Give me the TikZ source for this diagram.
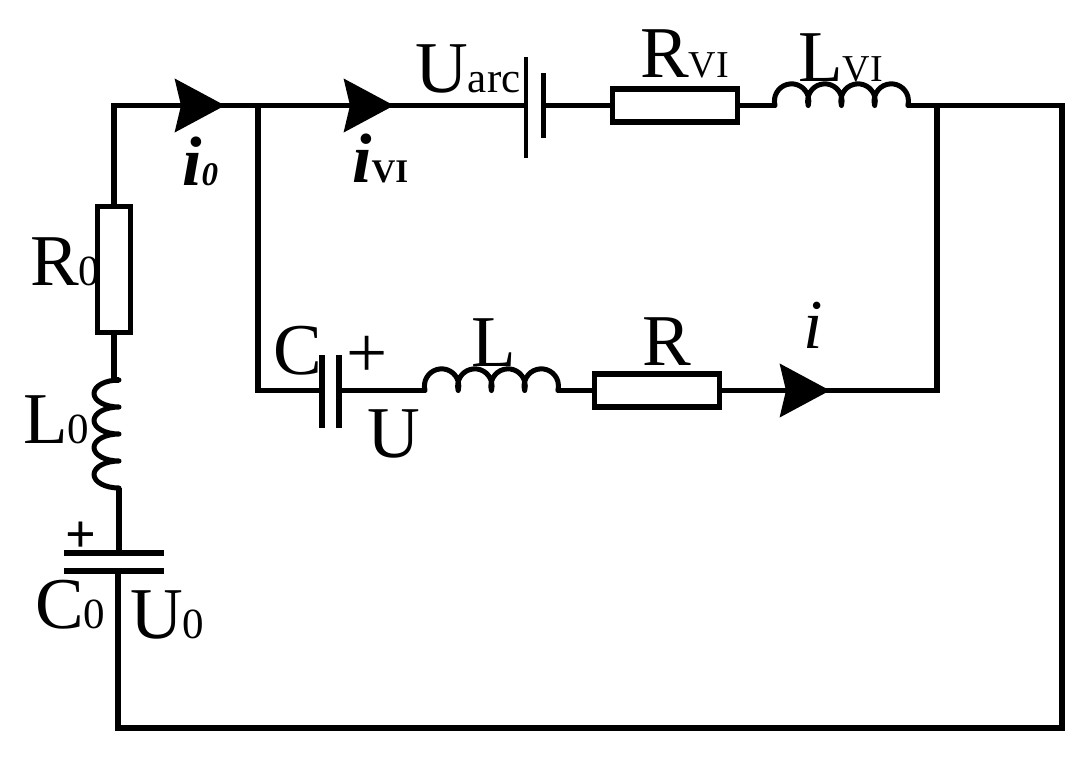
\documentclass[tikz,border=0pt]{standalone}
\usepackage{fontspec}
\setmainfont{Liberation Serif}
\usetikzlibrary{arrows.meta}
\newcommand{\bigfont}{\fontsize{73}{73}\selectfont}
\newcommand{\subfont}[1]{{\fontsize{43}{43}\selectfont #1}}
\newcommand{\vifont}{\fontsize{38}{38}\selectfont}
\newcommand{\cursub}[1]{{\fontsize{33}{33}\selectfont\bfseries #1}}
\tikzset{
	wire/.style={line width=5.5pt,line join=miter},
	coilwire/.style={line width=5pt,line join=round,line cap=round},
	resistor/.style={draw,rectangle,line width=5.5pt,inner sep=0pt},
	lab/.style={anchor=base west,inner sep=0pt,font=\bigfont},
	curlab/.style={anchor=base west,inner sep=0pt,font=\fontsize{70}{70}\selectfont\bfseries\itshape},
	arrowtip/.style={-{Stealth[length=50pt,width=53pt,inset=6pt]}}
}
\begin{document}
\begin{tikzpicture}[x=1pt,y=-1pt]
	\useasboundingbox (0,0) rectangle (1087,766);
	% coordinates of the wires
	\coordinate (corner_tl) at (114,105.5);
	\coordinate (tip_io) at (225,105.5);
	\coordinate (junction_l) at (258,105.5);
	\coordinate (tip_ivi) at (394,105.5);
	\coordinate (junction_r) at (937,105.5);
	\coordinate (corner_tr) at (1062,105.5);
	\coordinate (corner_br) at (1062,728);
	\coordinate (corner_bl) at (118,728);
	\coordinate (corner_cl) at (258,390.5);
	\coordinate (corner_cr) at (937,390.5);
	\coordinate (tip_i) at (830,390.5);
	% capacitor plates
	\coordinate (Uarc_a) at (526,57);
	\coordinate (Uarc_b) at (526,158);
	\coordinate (Uarc_c) at (543,73);
	\coordinate (Uarc_d) at (543,138);
	\coordinate (C_a) at (322,355);
	\coordinate (C_b) at (322,428);
	\coordinate (C_c) at (339,355);
	\coordinate (C_d) at (339,428);
	\coordinate (C0_a) at (64,553);
	\coordinate (C0_b) at (164,553);
	\coordinate (C0_c) at (64,571);
	\coordinate (C0_d) at (164,571);
	% resistors
	\node[resistor,minimum width=33pt,minimum height=126pt] (R0) at (114,269.5) {};
	\node[resistor,minimum width=125pt,minimum height=33pt] (RVI) at (675,105.5) {};
	\node[resistor,minimum width=125pt,minimum height=33pt] (R) at (657,390.5) {};
	% inductors
	\coordinate (L0_a) at (119,380);
	\coordinate (L0_b) at (119,488);
	\coordinate (LVI_a) at (775,105.5);
	\coordinate (LVI_b) at (908,105.5);
	\coordinate (L_a) at (425,390.5);
	\coordinate (L_b) at (558,390.5);
	\draw[coilwire] (L0_a) \foreach \k in {1,...,4}{ arc[start angle=90,end angle=270,x radius=25pt,y radius=13.5pt] };
	\draw[coilwire] (LVI_a) \foreach \k in {1,...,4}{ arc[start angle=195,end angle=-15,radius=17.2pt] };
	\draw[coilwire] (L_a) \foreach \k in {1,...,4}{ arc[start angle=195,end angle=-15,radius=17.2pt] };
	% plates
	\draw[line width=3.5pt] (Uarc_a)--(Uarc_b);
	\draw[line width=5pt] (Uarc_c)--(Uarc_d);
	\draw[wire] (C_a)--(C_b);
	\draw[wire] (C_c)--(C_d);
	\draw[wire] (C0_a)--(C0_b);
	\draw[wire] (C0_c)--(C0_d);
	% wires
	\draw[wire] (R0.north)--(corner_tl)--(junction_l)--(Uarc_a |- tip_ivi);
	\draw[wire] (junction_l)--(corner_cl)--(C_a |- corner_cl);
	\draw[wire] (C_c |- L_a)--(L_a);
	\draw[wire] (L_b)--(R.west);
	\draw[wire] (R.east)--(corner_cr)--(junction_r);
	\draw[wire] (Uarc_c |- RVI)--(RVI.west);
	\draw[wire] (RVI.east)--(LVI_a);
	\draw[wire] (LVI_b)--(corner_tr)--(corner_br)--(corner_bl)--(corner_bl |- C0_c);
	\draw[wire] (R0.south)--(R0.south |- L0_a)--(L0_a);
	\draw[wire] (L0_b)--(L0_b |- C0_a);
	% arrowheads
	\draw[wire,arrowtip] (corner_tl)--(tip_io);
	\draw[wire,arrowtip] (junction_l)--(tip_ivi);
	\draw[wire,arrowtip] (R.east)--(tip_i);
	% labels
	\node[lab] (lab_R0) at (30,285) {R\subfont{0}};
	\node[lab] (lab_L0) at (23,443) {L\subfont{0}};
	\node[lab] (lab_C0) at (35,628) {C\subfont{0}};
	\node[lab] (lab_U0) at (130,638) {U\subfont{0}};
	\node[lab] (lab_C) at (273,374) {C};
	\node[lab] (lab_U) at (367,457) {U};
	\node[lab] (lab_L) at (471,366) {L};
	\node[lab] (lab_R) at (642,365) {R};
	\node[lab] (lab_Uarc) at (415,92) {U\subfont{arc}};
	\node[lab] (lab_RVI) at (640,77) {R{\vifont VI}};
	\node[lab] (lab_LVI) at (798,81) {L{\vifont VI}};
	\node[lab] (plus_C) at (346,377) {+};
	\node[lab,font=\fontsize{54}{54}\selectfont\bfseries] (plus_C0) at (65,552) {+};
	\node[curlab] (lab_io) at (182,185) {i\cursub{\itshape 0}};
	\node[curlab] (lab_ivi) at (352,182) {i\cursub{\upshape VI}};
	\node[curlab,font=\fontsize{70}{70}\selectfont\itshape] (lab_i) at (803,348) {i};
\end{tikzpicture}
\end{document}
